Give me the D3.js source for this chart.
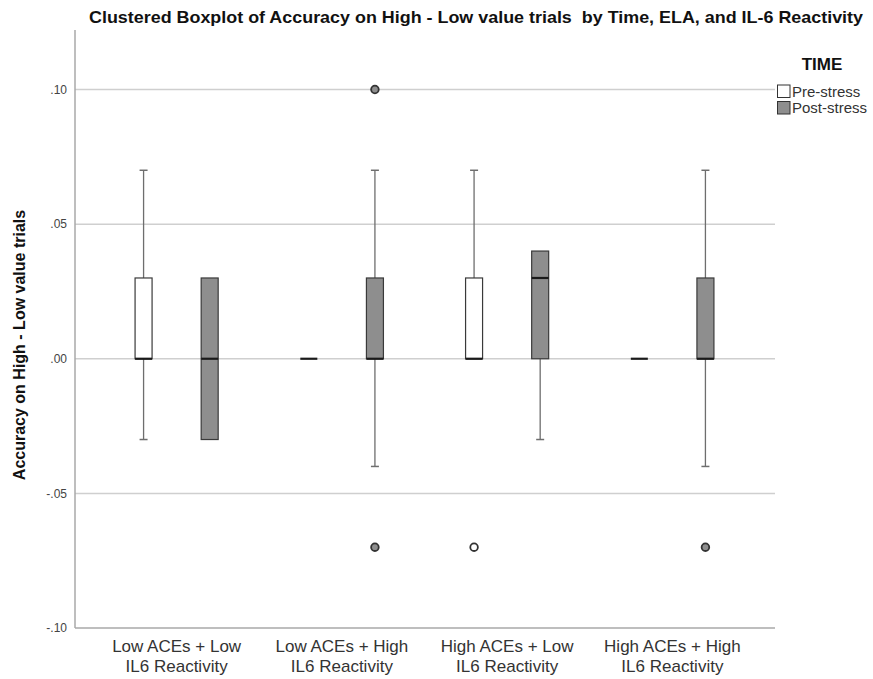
<!DOCTYPE html>
<html><head><meta charset="utf-8">
<script src="https://cdn.jsdelivr.net/npm/d3@7"></script>
<style>
body{margin:0;background:#fff;}
svg{display:block;}
</style></head>
<body><svg id="c" width="873" height="679"></svg>
<script>
// ---- data ----
const categories = [
  ["Low ACEs + Low", "IL6 Reactivity"],
  ["Low ACEs + High", "IL6 Reactivity"],
  ["High ACEs + Low", "IL6 Reactivity"],
  ["High ACEs + High", "IL6 Reactivity"]
];
const seriesNames = ["Pre-stress", "Post-stress"];
// five-number summaries [whiskerLow, q1, median, q3, whiskerHigh]
const preStress = [
  [-0.03, 0.00, 0.00, 0.03, 0.07],
  [0.00, 0.00, 0.00, 0.00, 0.00],
  [0.00, 0.00, 0.00, 0.03, 0.07],
  [0.00, 0.00, 0.00, 0.00, 0.00]
];
const postStress = [
  [-0.03, -0.03, 0.00, 0.03, 0.03],
  [-0.04, 0.00, 0.00, 0.03, 0.07],
  [-0.03, 0.00, 0.03, 0.04, 0.04],
  [-0.04, 0.00, 0.00, 0.03, 0.07]
];
const preOutliers = [[], [], [-0.07], []];
const postOutliers = [[], [0.10, -0.07], [], [-0.07]];
const yTicks = [-0.10, -0.05, 0.00, 0.05, 0.10];
const yTickLabels = ["-.10", "-.05", ".00", ".05", ".10"];

// ---- layout ----
const svg = d3.select("#c");
const pLeft = 75, pRight = 775, pTop = 30, pBottom = 628;
const y = d3.scaleLinear().domain([-0.10, 0.10]).range([628, 89.5]);
const x = d3.scaleBand().domain(d3.range(categories.length)).range([94, 755]);
const xs = d3.scalePoint().domain(seriesNames).range([0, x.bandwidth()]).padding(0.75);
const boxW = 17;
const fills = {"Pre-stress": "#ffffff", "Post-stress": "#8e8e8e"};
const font = "'Liberation Sans',Arial,sans-serif";

// gridlines
svg.append("g").selectAll("line").data(yTicks.filter(t => t > -0.1))
  .join("line")
  .attr("x1", pLeft).attr("x2", pRight)
  .attr("y1", d => y(d)).attr("y2", d => y(d))
  .attr("stroke", "#cfcfcf").attr("stroke-width", 1.5);

// axes lines
svg.append("line").attr("x1", pLeft).attr("x2", pLeft).attr("y1", pTop).attr("y2", pBottom)
  .attr("stroke", "#a8a8a8").attr("stroke-width", 1.5);
svg.append("line").attr("x1", pLeft).attr("x2", pRight).attr("y1", pBottom).attr("y2", pBottom)
  .attr("stroke", "#a8a8a8").attr("stroke-width", 1.5);

// y ticks
const yAxis = d3.axisLeft(y).tickValues(yTicks).tickSize(0).tickPadding(8)
  .tickFormat((d, i) => yTickLabels[i]);
const gy = svg.append("g").attr("transform", `translate(${pLeft},0)`).call(yAxis);
gy.select(".domain").remove();
gy.selectAll("text").attr("font-family", font)
  .attr("font-size", 12).attr("fill", "#444");

// x labels
const gx = svg.append("g");
categories.forEach((lines, i) => {
  const cx = x(i) + x.bandwidth() / 2;
  const t = gx.append("text").attr("x", cx).attr("y", 652)
    .attr("text-anchor", "middle").attr("font-family", font).attr("font-size", 17).attr("fill", "#333");
  lines.forEach((l, j) => t.append("tspan").attr("x", cx).attr("dy", j === 0 ? 0 : 19.5).text(l));
});

// boxes
function drawSeries(stats, outl, name) {
  const g = svg.append("g");
  stats.forEach((s, i) => {
    const cx = x(i) + xs(name);
    const [lo, q1, md, q3, hi] = s;
    if (hi > q3) {
      g.append("line").attr("x1", cx).attr("x2", cx).attr("y1", y(q3)).attr("y2", y(hi)).attr("stroke", "#6e6e6e").attr("stroke-width", 1.3);
      g.append("line").attr("x1", cx - 4).attr("x2", cx + 4).attr("y1", y(hi)).attr("y2", y(hi)).attr("stroke", "#6e6e6e").attr("stroke-width", 1.5);
    }
    if (lo < q1) {
      g.append("line").attr("x1", cx).attr("x2", cx).attr("y1", y(q1)).attr("y2", y(lo)).attr("stroke", "#6e6e6e").attr("stroke-width", 1.3);
      g.append("line").attr("x1", cx - 4).attr("x2", cx + 4).attr("y1", y(lo)).attr("y2", y(lo)).attr("stroke", "#6e6e6e").attr("stroke-width", 1.5);
    }
    if (q3 > q1) {
      g.append("rect").attr("x", cx - boxW / 2).attr("width", boxW)
        .attr("y", y(q3)).attr("height", y(q1) - y(q3))
        .attr("fill", fills[name]).attr("stroke", "#3a3a3a").attr("stroke-width", 1.2);
    }
    g.append("line").attr("x1", cx - boxW / 2).attr("x2", cx + boxW / 2)
      .attr("y1", y(md)).attr("y2", y(md)).attr("stroke", "#1a1a1a").attr("stroke-width", 2.2);
    outl[i].forEach(v => {
      g.append("circle").attr("cx", cx).attr("cy", y(v)).attr("r", 3.8)
        .attr("fill", name === "Pre-stress" ? "#fff" : "#8e8e8e")
        .attr("stroke", "#333").attr("stroke-width", 1.8);
    });
  });
}
drawSeries(preStress, preOutliers, "Pre-stress");
drawSeries(postStress, postOutliers, "Post-stress");

// title
svg.append("text").attr("x", 89).attr("y", 23).attr("font-family", font)
  .attr("font-weight", "bold").attr("font-size", 17).attr("fill", "#111")
  .style("white-space", "pre")
  .attr("textLength", 774).attr("lengthAdjust", "spacingAndGlyphs")
  .text("Clustered Boxplot of Accuracy on High - Low value trials  by Time, ELA, and IL-6 Reactivity");

// y title
svg.append("text").attr("transform", `translate(25,345) rotate(-90)`)
  .attr("text-anchor", "middle").attr("font-family", font)
  .attr("font-weight", "bold").attr("font-size", 16).attr("fill", "#111")
  .text("Accuracy on High - Low value trials");

// legend
const lg = svg.append("g");
lg.append("text").attr("x", 822).attr("y", 70).attr("text-anchor", "middle")
  .attr("font-family", font).attr("font-weight", "bold").attr("font-size", 17).attr("fill", "#111").text("TIME");
seriesNames.forEach((n, i) => {
  lg.append("rect").attr("x", 777.5).attr("y", 85 + i * 16.5).attr("width", 12.5).attr("height", 12.5)
    .attr("fill", fills[n]).attr("stroke", "#333").attr("stroke-width", 1);
  lg.append("text").attr("x", 792).attr("y", 96.5 + i * 16.5)
    .attr("font-family", font).attr("font-size", 15).attr("fill", "#333").text(n);
});
</script></body></html>
